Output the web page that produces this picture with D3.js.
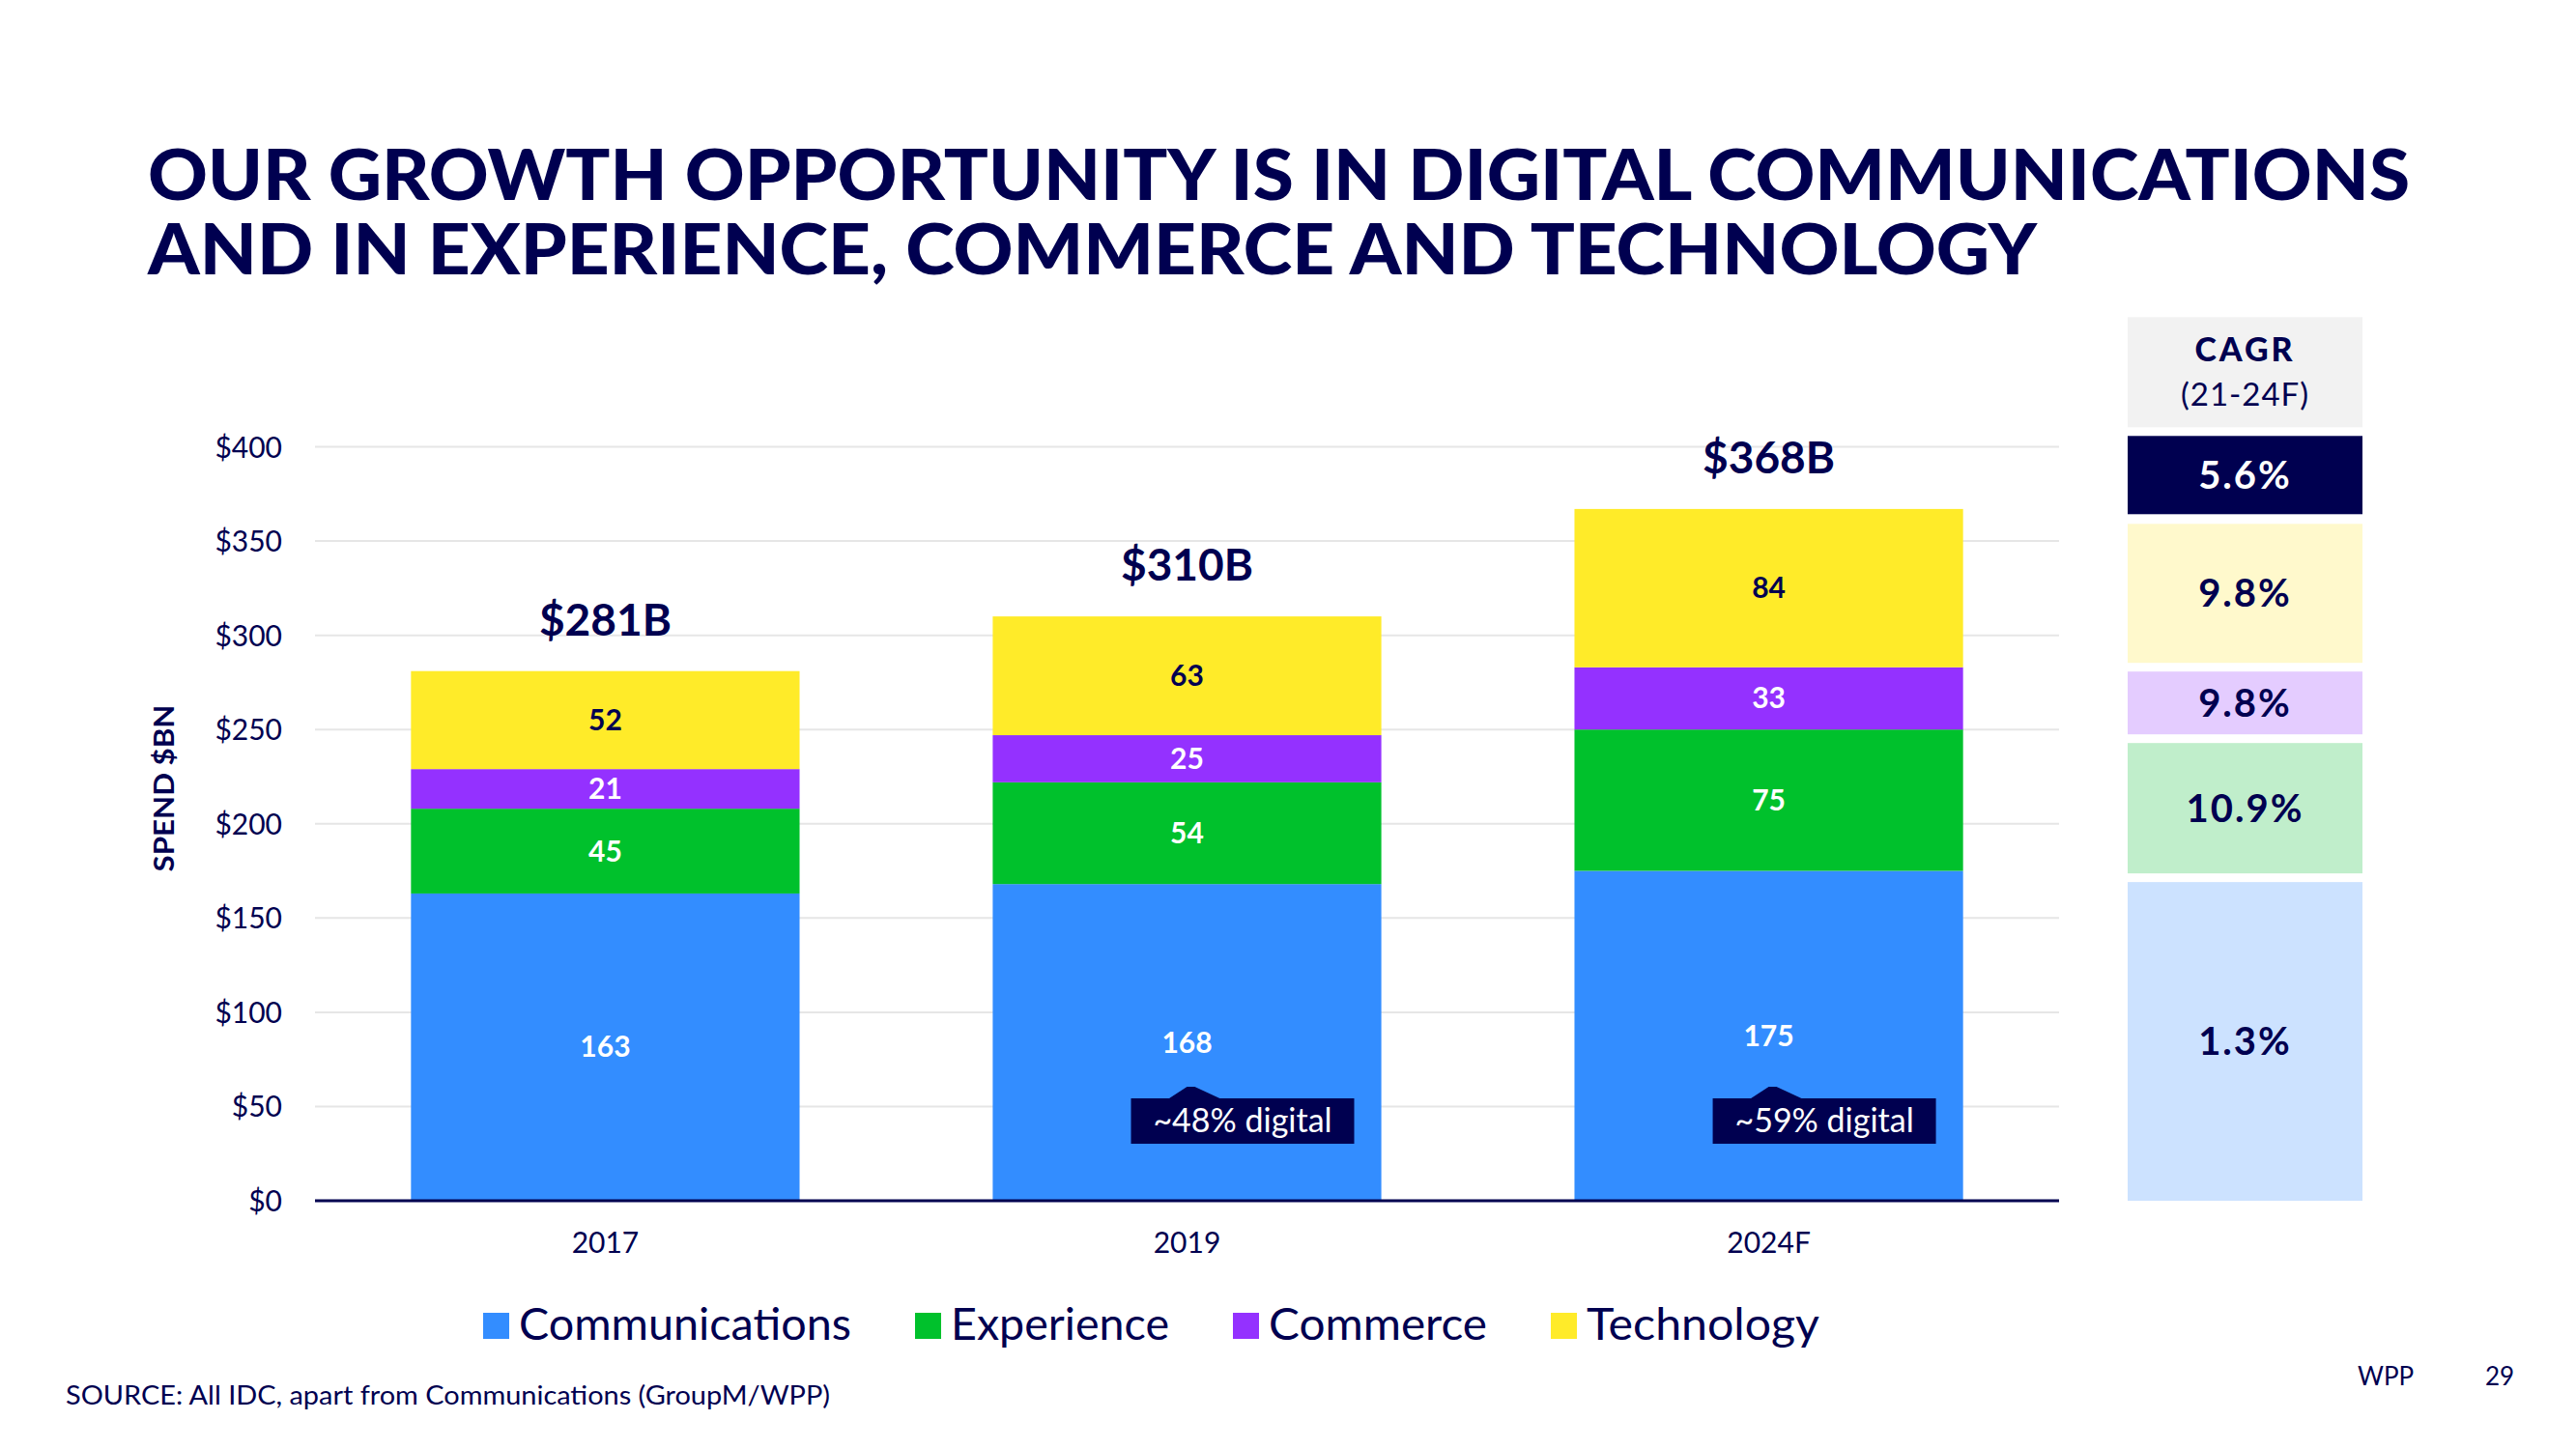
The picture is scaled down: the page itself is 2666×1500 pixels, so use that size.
<!DOCTYPE html>
<html>
<head>
<meta charset="utf-8">
<script src="https://cdn.jsdelivr.net/npm/d3@7"></script>
<style>
  html, body { margin: 0; padding: 0; background: #ffffff; }
  svg { display: block; }
  text { font-family: Lato, "Open Sans", "Noto Sans", sans-serif; }
</style>
</head>
<body>
<svg id="chart" width="2666" height="1500"></svg>
<script>
// ---------------- DATA ----------------
const years = ["2017", "2019", "2024F"];
const seriesNames = ["Communications", "Experience", "Commerce", "Technology"];
const communications = [163, 168, 175];
const experience = [45, 54, 75];
const commerce = [21, 25, 33];
const technology = [52, 63, 84];
const totalLabels = ["$281B", "$310B", "$368B"];
const yTicks = [0, 50, 100, 150, 200, 250, 300, 350, 400];
const digitalYears = ["2019", "2024F"];
const digitalLabels = ["~48% digital", "~59% digital"];
const cagrHeader = ["CAGR", "(21-24F)"];
const cagrTotal = "5.6%";
const cagrBySeries = ["1.3%", "10.9%", "9.8%", "9.8%"]; // Communications, Experience, Commerce, Technology
const titleLines = ["OUR GROWTH OPPORTUNITY IS IN DIGITAL COMMUNICATIONS",
                    "AND IN EXPERIENCE, COMMERCE AND TECHNOLOGY"];
const sourceText = "SOURCE: All IDC, apart from Communications (GroupM/WPP)";

// ---------------- STYLE ----------------
const NAVY = "#000050";
const colors = ["#338dff", "#00c12c", "#9431ff", "#ffeb29"];
const lightColors = ["#cce2ff", "#c0eecb", "#e4ccff", "#fff9cc"];
const labelColors = ["#ffffff", "#ffffff", "#ffffff", NAVY];
const cellTopPad = [11.6, 14, 4.4, 15.4];

const svg = d3.select("#chart");

// ---------------- SCALES ----------------
const y = d3.scaleLinear().domain([0, 400]).range([1243, 462.5]);
const x = d3.scaleBand().domain(years).range([326, 2131])
  .paddingInner(0.332).paddingOuter(0.165);

const table = years.map((yr, i) => ({
  year: yr,
  Communications: communications[i],
  Experience: experience[i],
  Commerce: commerce[i],
  Technology: technology[i]
}));
const stacked = d3.stack().keys(seriesNames)(table);

// ---------------- TITLE ----------------
svg.append("text").text(titleLines[0])
  .attr("x", 153).attr("y", 207)
  .attr("font-size", 73).attr("font-weight", 900).attr("fill", NAVY)
  .attr("textLength", 2341).attr("lengthAdjust", "spacingAndGlyphs");
svg.append("text").text(titleLines[1])
  .attr("x", 153).attr("y", 284)
  .attr("font-size", 73).attr("font-weight", 900).attr("fill", NAVY)
  .attr("textLength", 1955).attr("lengthAdjust", "spacingAndGlyphs");

// ---------------- GRID + Y AXIS ----------------
const yAxis = d3.axisLeft(y).tickValues(yTicks).tickFormat(d => "$" + d)
  .tickSize(0).tickPadding(0);
const gy = svg.append("g").attr("transform", "translate(292,0)").call(yAxis);
gy.select(".domain").remove();
gy.selectAll("text").attr("font-size", 30).attr("fill", NAVY)
  .attr("font-family", "Lato, 'Open Sans', sans-serif").attr("dy", "0.35em");

svg.append("g").selectAll("line")
  .data(yTicks.filter(d => d > 0))
  .join("line")
  .attr("x1", 326).attr("x2", 2131)
  .attr("y1", d => y(d)).attr("y2", d => y(d))
  .attr("stroke", "#e6e6e6").attr("stroke-width", 2);

svg.append("text").text("SPEND $BN")
  .attr("transform", "translate(180,816) rotate(-90)")
  .attr("text-anchor", "middle")
  .attr("font-size", 28).attr("font-weight", 700).attr("fill", NAVY)
  .attr("textLength", 173).attr("lengthAdjust", "spacingAndGlyphs");

// ---------------- BARS ----------------
const layers = svg.append("g").selectAll("g")
  .data(stacked).join("g")
  .attr("fill", (d, i) => colors[i]);

layers.selectAll("rect")
  .data(d => d.map(p => ({ p, year: p.data.year })))
  .join("rect")
  .attr("x", d => x(d.year))
  .attr("width", x.bandwidth())
  .attr("y", d => y(d.p[1]))
  .attr("height", d => y(d.p[0]) - y(d.p[1]));

stacked.forEach((layer, si) => {
  svg.append("g").selectAll("text")
    .data(layer).join("text")
    .attr("x", d => x(d.data.year) + x.bandwidth() / 2)
    .attr("y", d => y((d[0] + d[1]) / 2))
    .attr("dy", "0.35em")
    .attr("text-anchor", "middle")
    .attr("font-size", 30).attr("font-weight", 700)
    .attr("fill", labelColors[si])
    .text(d => d[1] - d[0]);
});

const tops = years.map((yr, i) => communications[i] + experience[i] + commerce[i] + technology[i]);
svg.append("g").selectAll("text")
  .data(years).join("text")
  .attr("x", d => x(d) + x.bandwidth() / 2)
  .attr("y", (d, i) => y(tops[i]) - 37)
  .attr("text-anchor", "middle")
  .attr("font-size", 46).attr("font-weight", 700).attr("fill", NAVY)
  .text((d, i) => totalLabels[i]);

svg.append("line")
  .attr("x1", 326).attr("x2", 2131)
  .attr("y1", y(0)).attr("y2", y(0))
  .attr("stroke", NAVY).attr("stroke-width", 3);

const xAxis = d3.axisBottom(x).tickSize(0).tickPadding(0);
const gx = svg.append("g").attr("transform", `translate(0,${y(0) + 54})`).call(xAxis);
gx.select(".domain").remove();
gx.selectAll("text").attr("font-size", 30).attr("fill", NAVY)
  .attr("font-family", "Lato, 'Open Sans', sans-serif").attr("dy", 0);

// ---------------- DIGITAL CALLOUTS ----------------
const call = svg.append("g").selectAll("g")
  .data(digitalYears).join("g")
  .attr("transform", d => `translate(${x(d) + x.bandwidth() / 2},${y(0) - 106})`);
call.append("path")
  .attr("d", "M-20,1 L0,-12 L8,-12 L36,1 Z")
  .attr("fill", NAVY);
call.append("rect")
  .attr("x", -58).attr("y", 0).attr("width", 231).attr("height", 47)
  .attr("fill", NAVY);
call.append("text")
  .attr("x", 57.5).attr("y", 35)
  .attr("text-anchor", "middle")
  .attr("font-size", 34).attr("fill", "#ffffff")
  .text((d, i) => digitalLabels[i]);

// ---------------- CAGR PANEL ----------------
const px0 = 2202, pw = 243;
const last = stacked.map(l => l[l.length - 1]);
const cells = svg.append("g");
const cellTops = [];
last.forEach((seg, i) => {
  const top = y(seg[1]) + cellTopPad[i];
  cellTops.push(top);
});
last.forEach((seg, i) => {
  const top = cellTops[i];
  const bottom = i === 0 ? y(seg[0]) : cellTops[i - 1] - 9;
  cells.append("rect").attr("x", px0).attr("y", top).attr("width", pw)
    .attr("height", bottom - top).attr("fill", lightColors[i]);
  cells.append("text").attr("x", px0 + pw / 2).attr("y", (top + bottom) / 2)
    .attr("dy", "0.35em").attr("text-anchor", "middle")
    .attr("font-size", 40).attr("font-weight", 700).attr("fill", NAVY)
    .attr("letter-spacing", 2)
    .text(cagrBySeries[i]);
});
const darkBottom = cellTops[3] - 10, darkTop = darkBottom - 81;
cells.append("rect").attr("x", px0).attr("y", darkTop).attr("width", pw)
  .attr("height", darkBottom - darkTop).attr("fill", NAVY);
cells.append("text").attr("x", px0 + pw / 2).attr("y", (darkTop + darkBottom) / 2)
  .attr("dy", "0.35em").attr("text-anchor", "middle")
  .attr("font-size", 40).attr("font-weight", 700).attr("fill", "#ffffff")
  .attr("letter-spacing", 2)
  .text(cagrTotal);
const headBottom = darkTop - 9, headTop = headBottom - 114;
cells.append("rect").attr("x", px0).attr("y", headTop).attr("width", pw)
  .attr("height", headBottom - headTop).attr("fill", "#f2f2f2");
cells.append("text").attr("x", px0 + pw / 2).attr("y", headTop + 46)
  .attr("text-anchor", "middle")
  .attr("font-size", 34).attr("font-weight", 900).attr("fill", NAVY)
  .attr("letter-spacing", 3)
  .text(cagrHeader[0]);
cells.append("text").attr("x", px0 + pw / 2).attr("y", headTop + 92)
  .attr("text-anchor", "middle")
  .attr("font-size", 33).attr("fill", NAVY)
  .attr("letter-spacing", 1)
  .text(cagrHeader[1]);

// ---------------- LEGEND ----------------
const legendWidths = [344, 226, 226, 241];
const legend = svg.append("g");
let lx = 500;
seriesNames.forEach((name, i) => {
  legend.append("rect").attr("x", lx).attr("y", 1359).attr("width", 27).attr("height", 27)
    .attr("fill", colors[i]);
  legend.append("text").attr("x", lx + 37).attr("y", 1387)
    .attr("font-size", 46).attr("fill", NAVY)
    .attr("textLength", legendWidths[i]).attr("lengthAdjust", "spacingAndGlyphs")
    .text(name);
  lx += 37 + legendWidths[i] + 66;
});

// ---------------- FOOTER ----------------
svg.append("text").text(sourceText)
  .attr("x", 68).attr("y", 1454)
  .attr("font-size", 27).attr("fill", NAVY)
  .attr("textLength", 791).attr("lengthAdjust", "spacingAndGlyphs");
svg.append("text").text("WPP")
  .attr("x", 2440).attr("y", 1434)
  .attr("font-size", 26).attr("fill", NAVY);
svg.append("text").text("29")
  .attr("x", 2572).attr("y", 1434)
  .attr("font-size", 26).attr("fill", NAVY);
</script>
</body>
</html>
